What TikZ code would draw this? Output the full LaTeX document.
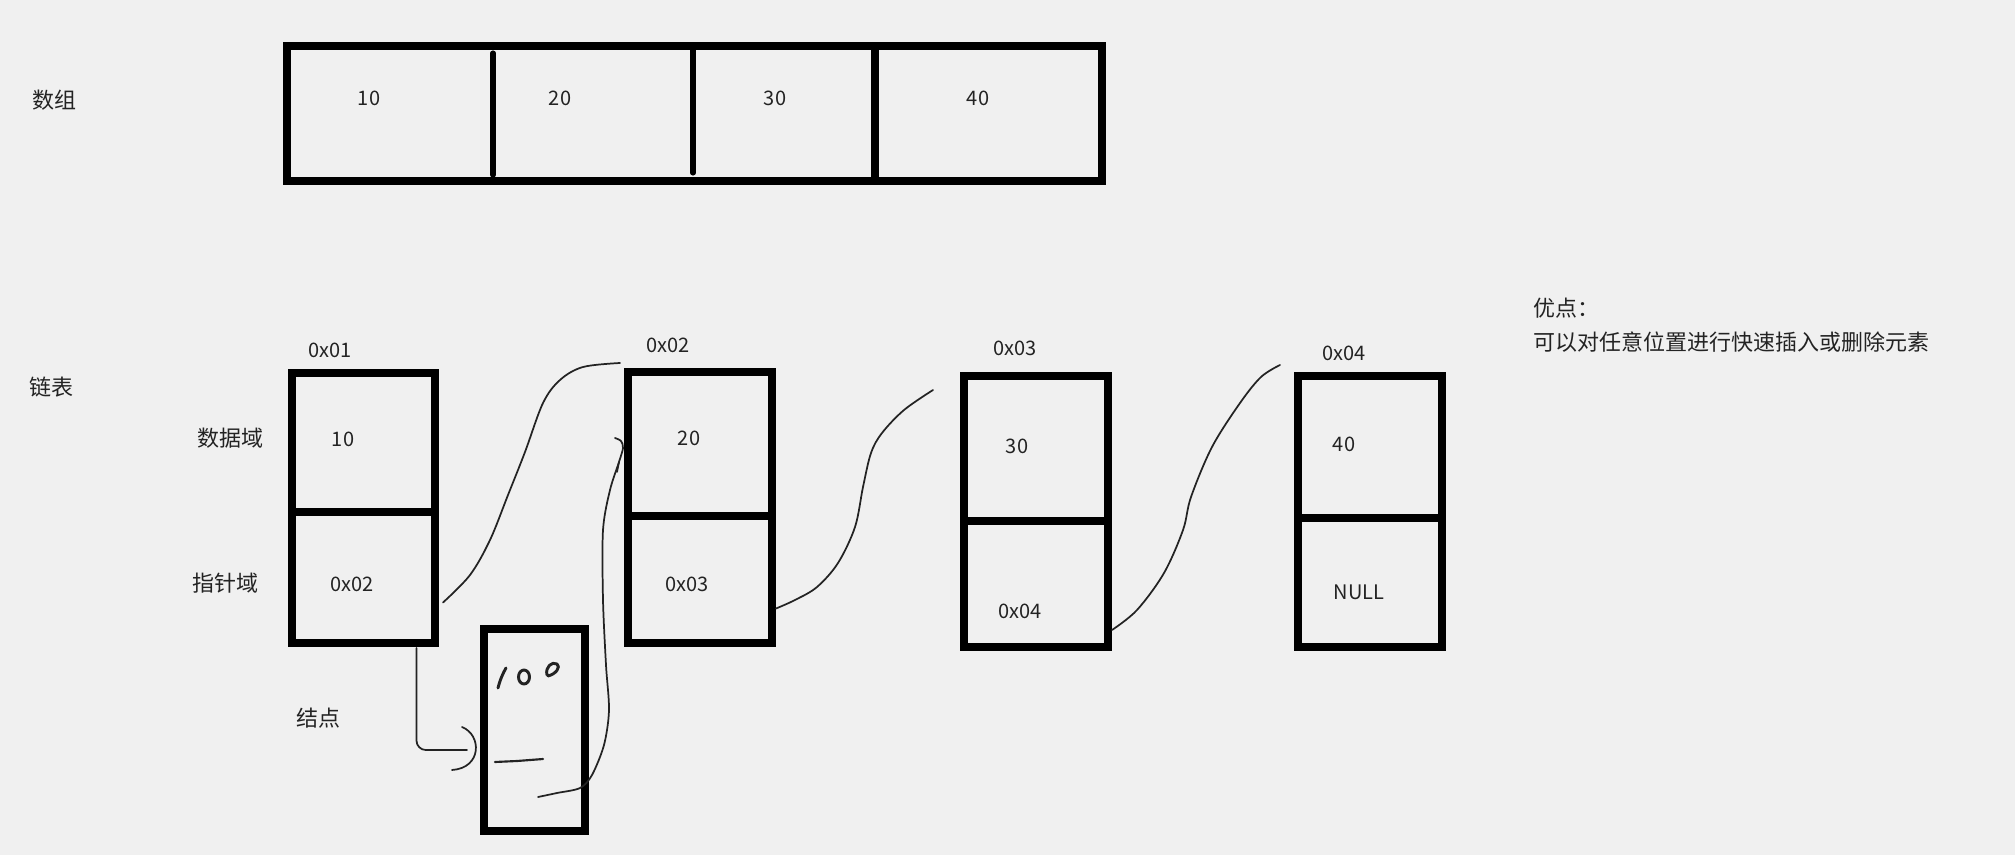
\documentclass[tikz,border=0pt]{standalone}
\usepackage{fontspec}
\setmainfont{Noto Sans CJK SC}
\usetikzlibrary{calc}
\definecolor{bg}{RGB}{240,240,240}
\definecolor{ink}{RGB}{35,35,35}
\newcommand\cellbox[5]{\node[box, minimum width={(#4-#2)*0.75pt}, minimum height={(#5-#3)*0.75pt}] (#1) at ({(#2+#4)/2},{(#3+#5)/2}) {};}
\begin{document}
\begin{tikzpicture}[x=0.75pt,y=-0.75pt,
  box/.style={draw=black, line width=6.4pt, inner sep=0pt, outer sep=0pt},
  thindiv/.style={draw=black, line width=3.8pt, line cap=round},
  lbl/.style={text=ink, font=\fontsize{16.5}{20}\selectfont, inner sep=0pt},
  num/.style={text=ink, font=\fontsize{15}{18}\selectfont, inner sep=0pt},
  wire/.style={draw=ink, line width=1.3pt, line cap=round, line join=round},
  hand/.style={draw=ink, line width=2.2pt, line cap=round, line join=round},
]
\fill[bg] (0,0) rectangle (2015,855);
\useasboundingbox (0,0) rectangle (2015,855);

% ---------- array ----------
\node[lbl] (arrlbl) at (54,100) {数组};
\cellbox{arr}{287}{46}{1102}{181}
\draw[thindiv] (493,53) -- (493,175);
\draw[thindiv] (693,50) -- (693,173);
\draw[draw=black, line width=6.4pt] (875,46) -- (875,181);
\node[num] (a1) at (369,98) {10};
\node[num] (a2) at (560,98) {20};
\node[num] (a3) at (775,98) {30};
\node[num] (a4) at (978,98) {40};

% ---------- linked list ----------
\node[lbl] (lllbl) at (51,387) {链表};
\node[lbl] (datalbl) at (230,438) {数据域};
\node[lbl] (ptrlbl) at (225,583) {指针域};
\node[lbl] (nodelbl) at (318,718) {结点};

\cellbox{n1d}{292}{373}{435}{512}
\cellbox{n1p}{292}{512}{435}{643}
\cellbox{n2d}{628}{372}{772}{516}
\cellbox{n2p}{628}{516}{772}{643}
\cellbox{n3d}{964}{376}{1108}{521}
\cellbox{n3p}{964}{521}{1108}{647}
\cellbox{n4d}{1298}{376}{1442}{518}
\cellbox{n4p}{1298}{518}{1442}{647}
\cellbox{sb}{484}{629}{585}{831}

\node[num] (addr1) at (330,350) {0x01};
\node[num] (v1) at (343,439) {10};
\node[num] (p1) at (352,584) {0x02};
\node[num] (addr2) at (668,345) {0x02};
\node[num] (v2) at (689,438) {20};
\node[num] (p2) at (687,584) {0x03};
\node[num] (addr3) at (1015,348) {0x03};
\node[num] (v3) at (1017,446) {30};
\node[num] (p3) at (1020,611) {0x04};
\node[num] (addr4) at (1344,353) {0x04};
\node[num] (v4) at (1344,444) {40};
\node[num] (p4) at (1359,592) {NULL};

\node[lbl, anchor=west] (adv1) at (1533,308) {优点：};
\node[lbl, anchor=west] (adv2) at (1533,342) {可以对任意位置进行快速插入或删除元素};

% ---------- hand drawn connectors ----------
\coordinate (w1s) at ($(n1p.east)+(8,25)$);
\coordinate (w1e) at ($(n2d.north west)+(-8,-9)$);
\draw[wire] plot[smooth, tension=0.55] coordinates {(w1s) (470,575) (490,540) (508,495) (525,452) (543,403) (560,380) (583,367) (w1e)};

\coordinate (w2s) at ($(n2p.east)+(4,29)$);
\coordinate (w2e) at ($(n3d.north west)+(-31,14)$);
\draw[wire] plot[smooth, tension=0.55] coordinates {(w2s) (795,600) (817,587) (838,563) (855,527) (863,487) (871,453) (882,433) (904,410) (w2e)};

\coordinate (w3s) at ($(n3p.east)+(4,46)$);
\coordinate (w3e) at ($(n4d.north west)+(-18,-11)$);
\draw[wire] plot[smooth, tension=0.55] coordinates {(w3s) (1137,610) (1164,573) (1183,530) (1191,497) (1212,447) (1240,403) (1261,377) (w3e)};

\coordinate (w4s) at ($(n1p.south)+(53,5)$);
\coordinate (w4e) at ($(sb.west)+(-17,20)$);
\draw[wire, rounded corners=7pt] (w4s) |- (w4e);
\coordinate (par1) at ($(sb.west)+(-22,-3)$);
\coordinate (par2) at ($(sb.west)+(-32,40)$);
\draw[wire] (par1) .. controls (482,735) and (482,768) .. (par2);

\coordinate (w5s) at ($(sb.center)+(3.5,67)$);
\coordinate (w5e) at ($(n2d.west)+(-13,-6)$);
\draw[wire] plot[smooth, tension=0.5] coordinates {(w5s) (557,793) (580,788) (592,775) (604,745) (609,710) (606,665) (603,600) (603,530) (610,490) (619,462) (623,448) (621,441) (w5e)};
\draw[wire] (617,472) -- (619,462);

% hand written "100" and bar in the new node
\draw[hand] (498,688) .. controls (500,680) and (503,673) .. (506,668);
\draw[hand] (524,677) ellipse [x radius=5.5, y radius=7];
\draw[hand] (547,675) .. controls (545,667) and (552,661) .. (557,664) .. controls (561,667) and (556,674) .. (548,676);
\draw[wire, line width=1.6pt] (495,762) -- (517,761) -- (543,759);
\end{tikzpicture}
\end{document}
